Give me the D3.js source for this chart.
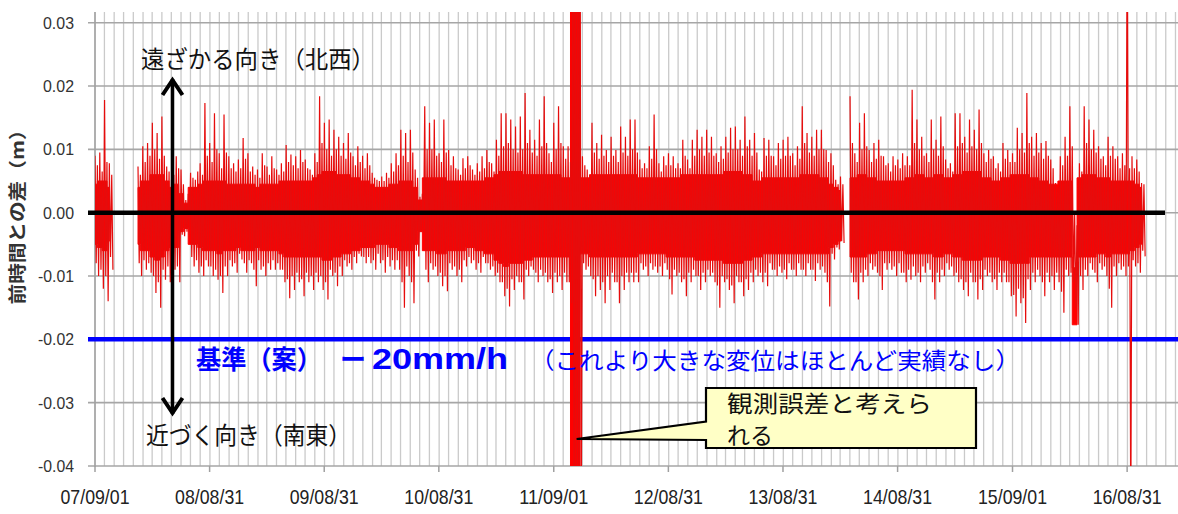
<!DOCTYPE html>
<html>
<head>
<meta charset="utf-8">
<script src="https://cdn.jsdelivr.net/npm/d3@7/dist/d3.min.js"></script>
<style>
  body { margin: 0; background: #fff; }
  svg { display: block; }
</style>
</head>
<body>
<svg id="chart" width="1178" height="514"></svg>
<script>
// ---- axis definitions ----
const yTicks = [0.03, 0.02, 0.01, 0.00, -0.01, -0.02, -0.03, -0.04];
const yTickLabels = ["0.03", "0.02", "0.01", "0.00", "-0.01", "-0.02", "-0.03", "-0.04"];
const xTickDates = ["2007-09-01", "2008-08-31", "2009-08-31", "2010-08-31", "2011-09-01",
                    "2012-08-31", "2013-08-31", "2014-08-31", "2015-09-01", "2016-08-31"];
const xTickLabels = ["07/09/01", "08/08/31", "09/08/31", "10/08/31", "11/09/01",
                     "12/08/31", "13/08/31", "14/08/31", "15/09/01", "16/08/31"];
const xDomain = ["2007-09-01", "2017-02-09"];

// ---- series: hourly displacement difference, summarised per half month (mm) ----
const seriesStart = "2007-09-01";
const samplesPerYear = 24;

// largest positive swing in each half-month
const peakHi = [
  9.0, 9.5, 17.8, 7.8, null, null, null, null, null, 7.3,
  10.5, 11, 14.2, 12.6, 15.2, 7.3, 5.2, 8.9, 6.8, 2,
  6.3, 5.2, 7.8, 17.3, 11, 15.7, 9.4, 15.5, 8.9, 7.8,
  8.4, 11.8, 9.4, 7.3, 6.8, 9.4, 7.3, 8.9, 6.8, 7.8,
  10.7, 9.2, 8.9, 9.9, 8.4, 6.8, 9.4, 18.4, 14.2, 14.7,
  13.1, 12, 11, 12.6, 8.9, 10.5, 9, 9.4, 6.3, 5.2,
  5.7, 6.3, 7.8, 9.4, 13.1, 12.6, 13.1, 6.8, 2.5, 16.8,
  14.2, 14.7, 9.4, 14.7, 9.9, 8.9, 6.8, 8.6, 8.9, 6.8,
  7.8, 8.9, 9.9, 7.8, 11.5, 15.7, 15.7, 14.7, 13.6, 15.2,
  18.9, 13.1, 11.5, 14.7, 18.4, 9.4, 14.2, 16.8, 10.5, 10.5,
  50, 50, 8.9, 6.8, 14.2, 11, 12.3, 9.9, 12, 9.9,
  13.6, 12, 14.7, 14.7, 8.4, 7.8, 10.5, 15.5, 7.8, 8.9,
  9.4, 8.9, 7.8, 11.5, 8.4, 11.5, 13.1, 12, 13.1, 12,
  9.4, 10.5, 12, 13.4, 13.6, 11.5, 15.2, 11.5, 12.6, 6.8,
  11.8, 11.5, 8.9, 11, 11.5, 12, 9.4, 10.5, 16.8, 12.6,
  12, 13.1, 13.1, 9.9, 9.4, 5.2, 5.7, null, 18.4, 9.4,
  14.2, 15.7, 9.9, 11, 11.5, 8.9, 7.8, 8.9, 8.4, 9.4,
  8.9, 19.4, 14.7, 12, 9.4, 14.7, 11.5, 15.2, 8.4, 7.8,
  15.7, 15.7, 12, 14.7, 13.1, 16.3, 9.4, 9.9, 8.9, 7.8,
  11, 9.9, 9.4, 13.4, 12.6, 18.9, 12, 12.6, 11, 11.3,
  8.4, 4.7, 8.9, 12, 16.8, 0, 7.8, 16.8, 14.7, 13.1,
  10.5, 8.9, 12, 10.5, 8.9, 9.4, 50, 8.9, 8.4, 4.7
];

// largest negative swing in each half-month
const peakLo = [
  -10, -12, -14, -9, null, null, null, null, null, -10,
  -9, -9.5, -12.7, -15, -10.6, -11, -9, -11, -3.7, -3.5,
  -8.5, -9.5, -10, -8.5, -10, -10.6, -12.7, -10, -8.5, -9.5,
  -7.4, -9.5, -8, -11.6, -9, -10, -9, -9, -9, -11,
  -13.5, -12.2, -11, -13.2, -11, -12.2, -11, -12.2, -13.7, -10,
  -11.6, -10, -8.5, -9, -8, -6.9, -8, -8, -9, -8,
  -9.5, -8.5, -9, -9, -15, -10, -14.3, -6.9, -3.2, -11,
  -9, -10, -11.6, -12.4, -9, -10, -11, -8.5, -8, -9,
  -9.5, -8, -9, -10, -11, -13.2, -14.8, -12.2, -11, -13.7,
  -10, -9, -11, -10, -11, -12.7, -11, -12.2, -11, -14.3,
  -50, -50, -9, -10, -13.2, -12.2, -14.3, -12.2, -11, -14.3,
  -12.2, -11, -11, -11, -9, -10, -9, -9.5, -10, -9,
  -12.9, -10, -11, -13.2, -11, -10, -12.2, -11, -10, -11,
  -15, -11, -12.2, -14.3, -11, -13.2, -12.2, -11, -10, -11,
  -11.6, -9, -10, -9.5, -10.5, -9, -10, -9, -10, -9,
  -10.8, -9, -9.5, -14.8, -7.4, -5.8, -4.8, null, -11, -13.7,
  -11, -10, -9, -9.5, -12.2, -9, -9, -10, -9.5, -11,
  -10.6, -10, -11, -9.5, -9, -13.7, -11, -10, -9, -10,
  -11, -12.2, -13.2, -11, -13.7, -12.2, -10, -11, -12.2, -11,
  -11, -13.2, -16.4, -14.3, -17.4, -12.2, -11, -10, -13.2, -11,
  -12.2, -11, -15.8, -10, -11, -17.7, -12.2, -10, -9, -11,
  -9, -10, -15, -10, -9, -10, -50, -8.5, -9.5, -6.9
];

// second-largest positive swing in each half-month
const midHi = [
  7.5, 6.5, 8, 6, null, null, null, null, null, 6,
  8, 9, 10, 8.5, 9, 6.5, 6, 7, 4.5, 3,
  5.5, 6.5, 6, 9, 8, 10, 7, 9.5, 7, 6.5,
  7, 8.5, 6.5, 6, 5.5, 7.5, 6, 7, 6, 6.5,
  8, 7.5, 7, 8, 7, 6, 8, 11, 10, 9,
  10, 9, 8.5, 9.5, 7.5, 8, 7, 7.5, 5.5, 5,
  5, 5.5, 6.5, 7.5, 9, 8, 9.5, 5.5, 3, 10,
  10, 9, 8, 9.5, 7.5, 7, 6, 7, 7.5, 6,
  6.5, 7, 8, 6.5, 9, 10.5, 11, 10, 9.5, 10,
  11, 9.5, 9, 10.5, 11, 8, 10, 11, 8.5, 8,
  50, 50, 7.5, 6, 9.5, 8.5, 9, 8, 9, 8,
  9.5, 9, 10, 9.5, 7, 7, 8.5, 10, 6.5, 7.5,
  7.5, 7, 7, 9, 7, 9, 10, 9, 9.5, 9,
  8, 8.5, 9.5, 10, 10, 9, 10.5, 9, 9.5, 6.5,
  9, 9, 7.5, 8.5, 9, 9, 7.5, 8.5, 11, 9.5,
  9, 10, 10, 8, 7.5, 4.5, 4.5, null, 11, 8,
  10, 10.5, 8, 8.5, 9, 7.5, 6.5, 7.5, 7, 7.5,
  7.5, 11, 10, 9, 8, 10, 9, 10.5, 7, 6.5,
  10.5, 11, 9.5, 10.5, 10, 11, 8, 8.5, 7, 6.5,
  8.5, 8, 8, 10, 9.5, 11, 9, 9.5, 8.5, 9,
  7, 4, 7.5, 9, 10.5, -2, 6.5, 11, 10, 9.5,
  8.5, 7.5, 9, 8.5, 7, 7.5, 7, 7, 6.5, 4.5
];

// second-largest negative swing in each half-month
const midLo = [
  -8, -9, -10, -7, null, null, null, null, null, -8,
  -7.5, -8, -10, -11, -9, -8.5, -7.5, -8.5, -3.5, -3,
  -7, -7.5, -8.5, -7.5, -8.5, -9, -10, -8.5, -7.5, -8,
  -6.5, -8, -7.5, -9, -7.5, -8.5, -8, -7.5, -8, -9,
  -10.5, -10, -9.5, -10.5, -9.5, -10, -9.5, -10, -11, -9,
  -9.5, -8.5, -7.5, -8, -7, -6.5, -7, -7, -7.5, -6.5,
  -7.5, -7, -7.5, -7.5, -11, -8.5, -11, -6, -3, -9,
  -8, -8.5, -9.5, -10, -8, -8.5, -9, -7.5, -7, -7.5,
  -8, -7, -8, -8.5, -9.5, -11, -12, -10.5, -10, -11,
  -9, -8.5, -9.5, -9, -9.5, -10.5, -9.5, -10, -9.5, -11,
  -50, -50, -8, -8.5, -10.5, -10, -11, -10, -9.5, -11,
  -10, -9.5, -9.5, -9.5, -8, -8.5, -8, -8.5, -8.5, -8,
  -10.5, -9, -9.5, -10.5, -9.5, -9, -10, -9.5, -9, -9.5,
  -11.5, -10, -10.5, -11.5, -10, -11, -10.5, -9.5, -9, -9.5,
  -9.5, -8, -9, -8.5, -9, -8, -9, -8, -9, -8,
  -9, -8, -8.5, -11, -6.5, -5.5, -4.5, null, -9.5, -11,
  -9.5, -9, -8, -8.5, -10, -8, -8, -8.5, -8, -9.5,
  -9, -8.5, -9.5, -8.5, -8, -11, -9.5, -9, -8, -8.5,
  -9.5, -10.5, -11, -9.5, -11, -10.5, -9, -9.5, -10.5, -9.5,
  -9.5, -11, -13, -12, -13.5, -10.5, -9.5, -9, -11, -9.5,
  -10, -9.5, -12.5, -9, -9.5, -15, -10, -9, -8, -9.5,
  -8, -8.5, -12, -8.5, -8, -8.5, -8.5, -7.5, -8, -6
];

// dense band where most hourly values fall (upper edge)
const coreHi = [
  4.5, 5, 5, 4, null, null, null, null, null, 4,
  5, 5, 6, 6, 6, 5, 4, 4.5, 3, 1.5,
  4, 4, 4.5, 5, 5, 5, 5, 5, 4.5, 4.5,
  4.5, 4.5, 4.5, 4.5, 4, 4.5, 4.5, 4.5, 4.5, 5,
  5, 5, 5, 5, 5, 5, 5.5, 6, 6.5, 6.5,
  6.5, 6, 6, 6, 5.5, 5.5, 5, 5, 4.5, 4,
  4, 4, 4.5, 4.5, 5, 5, 5, 4, 2, 5.5,
  5.5, 5.5, 5.5, 5.5, 5, 5, 5, 5, 5, 5,
  5, 5, 5.5, 5.5, 6, 6.5, 6.5, 6.5, 6.5, 6.5,
  6, 6, 6, 6, 6, 6, 6, 6, 5.5, 5.5,
  50, 50, 5.5, 5.5, 6, 6, 6, 6, 6, 6,
  6, 6, 6, 6, 5.5, 5.5, 5.5, 5.5, 5.5, 5.5,
  5.5, 5.5, 5.5, 6, 6, 6, 6, 6, 6, 6,
  6, 6, 6.5, 6.5, 6.5, 6.5, 6, 6, 5, 5,
  5.5, 5.5, 5.5, 5.5, 5.5, 5.5, 5.5, 5.5, 6, 6,
  6, 6, 5.5, 5.5, 4.5, 4, 3.5, null, 5.5, 5.5,
  6, 6, 5.5, 5.5, 5, 5, 5, 5, 5, 5,
  5.5, 5.5, 6, 6, 5.5, 5.5, 6, 6, 5.5, 5.5,
  6, 6, 6.5, 6.5, 6.5, 6.5, 5.5, 5.5, 5, 5,
  5.5, 5.5, 6, 6, 6, 6, 5.5, 5.5, 5, 5,
  4.5, 4.5, 5, 5, 5, -8.7, 5.5, 6, 6, 6,
  5.5, 5.5, 5.5, 5, 5, 5, 5, 5, 4.5, 4
];

// dense band where most hourly values fall (lower edge)
const coreLo = [
  -5, -5.5, -6, -4.5, null, null, null, null, null, -5,
  -6, -6, -7, -7.5, -7, -6, -5.5, -5.5, -3, -2.5,
  -5, -5, -5.5, -6, -6, -6, -6.5, -6, -6, -6,
  -5.5, -6, -6, -6, -5.5, -6, -6, -6, -6, -6.5,
  -7, -7, -7, -7, -7, -7, -7, -7, -7.5, -7.5,
  -7, -7, -6.5, -6.5, -6, -6, -5.5, -5.5, -5.5, -5,
  -5, -5, -5.5, -5.5, -6, -6, -6, -5, -3, -6,
  -6, -6, -6.5, -6.5, -6, -6, -6, -6, -5.5, -5.5,
  -6, -6, -6.5, -6.5, -7.5, -8, -8.5, -8, -8, -8,
  -7.5, -7.5, -7, -7, -7, -7, -7, -7, -7, -7,
  -50, -50, -6.5, -6.5, -7, -7, -7, -7, -7, -7,
  -7, -7, -7, -7, -6.5, -6.5, -6.5, -6.5, -6.5, -6.5,
  -7, -7, -7, -7, -7, -7, -7.5, -7.5, -7.5, -7.5,
  -7.5, -7.5, -8, -8, -8, -8, -7.5, -7.5, -7, -7,
  -6.5, -6.5, -6.5, -6.5, -6.5, -6.5, -6.5, -6.5, -6.5, -6.5,
  -6.5, -6.5, -6.5, -6.5, -5.5, -5, -4.5, null, -7, -7,
  -7, -7, -6.5, -6.5, -6, -6, -6, -6, -6, -6,
  -6.5, -6.5, -6.5, -6.5, -6.5, -6.5, -7, -7, -6.5, -6.5,
  -7, -7, -7.5, -7.5, -7.5, -7.5, -7, -7, -7, -7,
  -7.5, -7.5, -8, -8, -8, -8, -7, -7, -7, -7,
  -7, -7, -7, -7, -7, -17.7, -7, -7, -7, -7,
  -6.5, -6.5, -7, -6.5, -6.5, -6.5, -6.5, -6, -5.5, -5
];

// reference value (proposed threshold), metres
const thresholdValue = -0.02;

// ---- layout ----
const svg = d3.select("#chart");
const plot = { left: 95, right: 1178, top: 12, bottom: 466 };

const parse = d3.utcParse("%Y-%m-%d");
const x = d3.scaleUtc()
  .domain(xDomain.map(parse))
  .range([plot.left, plot.right]);
// 0.03 sits a little below the top of the plot frame
const y = d3.scaleLinear()
  .domain([-0.04, 0.03])
  .range([plot.bottom, 22.7]);

const t0 = parse(seriesStart).getTime();
const stepMs = 365.25 / samplesPerYear * 864e5;
const sampleDate = (i, frac) => new Date(t0 + (i + frac) * stepMs);
const mm = v => (v == null ? null : v / 1000);

const series = peakHi.map((v, i) => ({
  i,
  hi: mm(v), lo: mm(peakLo[i]),
  mHi: mm(midHi[i]), mLo: mm(midLo[i]),
  cHi: mm(coreHi[i]), cLo: mm(coreLo[i])
}));

// ---- clip ----
svg.append("defs").append("clipPath").attr("id", "plotClip")
  .append("rect")
  .attr("x", plot.left).attr("y", plot.top)
  .attr("width", plot.right - plot.left).attr("height", plot.bottom - plot.top);

// ---- grid ----
const grid = svg.append("g");
const months = d3.utcMonth.range(parse("2007-09-01"), x.domain()[1]);
grid.selectAll("line.vgrid").data(months).join("line")
  .attr("class", "vgrid")
  .attr("x1", d => x(d)).attr("x2", d => x(d))
  .attr("y1", plot.top).attr("y2", plot.bottom)
  .attr("stroke", "#cacaca").attr("stroke-width", 1.3);

grid.selectAll("line.hgrid").data(yTicks).join("line")
  .attr("class", "hgrid")
  .attr("x1", plot.left - 7).attr("x2", plot.right)
  .attr("y1", d => y(d)).attr("y2", d => y(d))
  .attr("stroke", "#a6a6a6").attr("stroke-width", 1.6);

// y axis line
grid.append("line")
  .attr("x1", plot.left).attr("x2", plot.left)
  .attr("y1", plot.top).attr("y2", plot.bottom + 1)
  .attr("stroke", "#a0a0a0").attr("stroke-width", 1.5);

// x major ticks
grid.selectAll("line.xtick").data(xTickDates).join("line")
  .attr("class", "xtick")
  .attr("x1", d => x(parse(d))).attr("x2", d => x(parse(d)))
  .attr("y1", plot.bottom).attr("y2", plot.bottom + 6)
  .attr("stroke", "#a0a0a0").attr("stroke-width", 1.5);

// ---- tick labels ----
svg.append("g").selectAll("text").data(yTicks).join("text")
  .attr("x", 74)
  .attr("y", d => y(d))
  .attr("dy", "0.35em")
  .attr("text-anchor", "end")
  .attr("font-family", "'Liberation Sans', Arial, sans-serif")
  .attr("font-size", 17)
  .attr("fill", "#333")
  .attr("textLength", (d, i) => yTickLabels[i].length === 4 ? 31 : 36)
  .attr("lengthAdjust", "spacingAndGlyphs")
  .text((d, i) => yTickLabels[i]);

svg.append("g").selectAll("text").data(xTickDates).join("text")
  .attr("x", d => x(parse(d)))
  .attr("y", 504)
  .attr("text-anchor", "middle")
  .attr("font-family", "'Liberation Sans', Arial, sans-serif")
  .attr("font-size", 21)
  .attr("fill", "#222")
  .attr("textLength", 69)
  .attr("lengthAdjust", "spacingAndGlyphs")
  .text((d, i) => xTickLabels[i]);

// y axis title
svg.append("text")
  .attr("transform", "translate(24,212) rotate(-90)")
  .attr("text-anchor", "middle")
  .attr("font-family", "'Noto Sans CJK JP', sans-serif")
  .attr("font-weight", "bold")
  .attr("font-size", 18)
  .attr("fill", "#333")
  .attr("textLength", 185)
  .attr("lengthAdjust", "spacingAndGlyphs")
  .text("前時間との差（m）");

// ---- threshold line ----
svg.append("line")
  .attr("x1", plot.left - 7).attr("x2", plot.right)
  .attr("y1", y(thresholdValue)).attr("y2", y(thresholdValue))
  .attr("stroke", "#0000ff").attr("stroke-width", 4.5);

// ---- data ----
const dataG = svg.append("g").attr("clip-path", "url(#plotClip)");

const core = d3.area()
  .defined(d => d.cHi != null)
  .curve(d3.curveStep)
  .x(d => x(sampleDate(d.i, 0)))
  .y0(d => y(d.cLo))
  .y1(d => y(d.cHi));

dataG.append("path")
  .datum(series)
  .attr("d", core)
  .attr("fill", "#ff0000")
  .attr("stroke", "#ff0000")
  .attr("stroke-width", 1);

// within each half-month: peak high, second low, second high, peak low
const zig = [];
series.forEach(d => {
  zig.push({ t: sampleDate(d.i, 0), v: d.hi });
  zig.push({ t: sampleDate(d.i, 0.25), v: d.mLo });
  zig.push({ t: sampleDate(d.i, 0.5), v: d.mHi });
  zig.push({ t: sampleDate(d.i, 0.75), v: d.lo });
});
const zigLine = d3.line()
  .defined(d => d.v != null)
  .x(d => x(d.t))
  .y(d => y(d.v));

dataG.append("path")
  .datum(zig)
  .attr("d", zigLine)
  .attr("fill", "none")
  .attr("stroke", "#e60c0c")
  .attr("stroke-width", 1.2)
  .attr("stroke-linejoin", "miter");

// ---- zero line ----
svg.append("line")
  .attr("x1", plot.left - 7).attr("x2", 1165)
  .attr("y1", y(0)).attr("y2", y(0))
  .attr("stroke", "#000").attr("stroke-width", 4.5);

// ---- direction arrow ----
const arrowX = 172.5;
const arrow = svg.append("g").attr("stroke", "#000").attr("fill", "none")
  .attr("stroke-width", 3.5).attr("stroke-linecap", "butt");
arrow.append("line").attr("x1", arrowX).attr("x2", arrowX).attr("y1", 79).attr("y2", 414);
arrow.append("polyline")
  .attr("points", `${arrowX - 10},${95} ${arrowX},${80} ${arrowX + 10},${95}`)
  .attr("stroke-width", 4);
arrow.append("polyline")
  .attr("points", `${arrowX - 10},${398} ${arrowX},${413} ${arrowX + 10},${398}`)
  .attr("stroke-width", 4);

const jp = "'Noto Sans CJK JP', sans-serif";
svg.append("text").attr("x", 141).attr("y", 68)
  .attr("font-family", jp).attr("font-size", 24).attr("fill", "#111")
  .attr("textLength", 234).attr("lengthAdjust", "spacingAndGlyphs")
  .text("遠ざかる向き（北西）");
svg.append("text").attr("x", 146).attr("y", 444)
  .attr("font-family", jp).attr("font-size", 24).attr("fill", "#111")
  .attr("textLength", 205).attr("lengthAdjust", "spacingAndGlyphs")
  .text("近づく向き（南東）");

// ---- threshold caption ----
const cap = svg.append("text").attr("y", 369).attr("fill", "#0000ff");
cap.append("tspan").attr("x", 196)
  .attr("font-family", jp).attr("font-weight", "bold").attr("font-size", 26)
  .attr("textLength", 126).attr("lengthAdjust", "spacingAndGlyphs")
  .text("基準（案）");
cap.append("tspan").attr("x", 340)
  .attr("font-family", jp).attr("font-weight", "bold").attr("font-size", 26)
  .text("ー");
cap.append("tspan").attr("x", 372)
  .attr("font-family", "'Liberation Sans', Arial, sans-serif").attr("font-weight", "bold").attr("font-size", 29)
  .attr("textLength", 136).attr("lengthAdjust", "spacingAndGlyphs")
  .text("20mm/h");
cap.append("tspan").attr("x", 530)
  .attr("font-family", jp).attr("font-size", 23)
  .attr("textLength", 490).attr("lengthAdjust", "spacingAndGlyphs")
  .text("（これより大きな変位はほとんど実績なし）");

// ---- callout ----
const tipX = x(sampleDate(101, 0)) - 1, tipY = 439;
const box = { x: 706, y: 388, w: 270, h: 60 };
svg.append("path")
  .attr("d", `M${box.x},${box.y} H${box.x + box.w} V${box.y + box.h} H${box.x} V${440} L${tipX},${tipY} L${box.x},${421.5} Z`)
  .attr("fill", "#ffffc6")
  .attr("stroke", "#000")
  .attr("stroke-width", 2.2)
  .attr("stroke-linejoin", "miter");
const note = svg.append("text")
  .attr("font-family", jp).attr("font-size", 23).attr("fill", "#111");
note.append("tspan").attr("x", 727).attr("y", 412)
  .attr("textLength", 205).attr("lengthAdjust", "spacingAndGlyphs")
  .text("観測誤差と考えら");
note.append("tspan").attr("x", 727).attr("y", 444)
  .text("れる");
</script>
</body>
</html>
